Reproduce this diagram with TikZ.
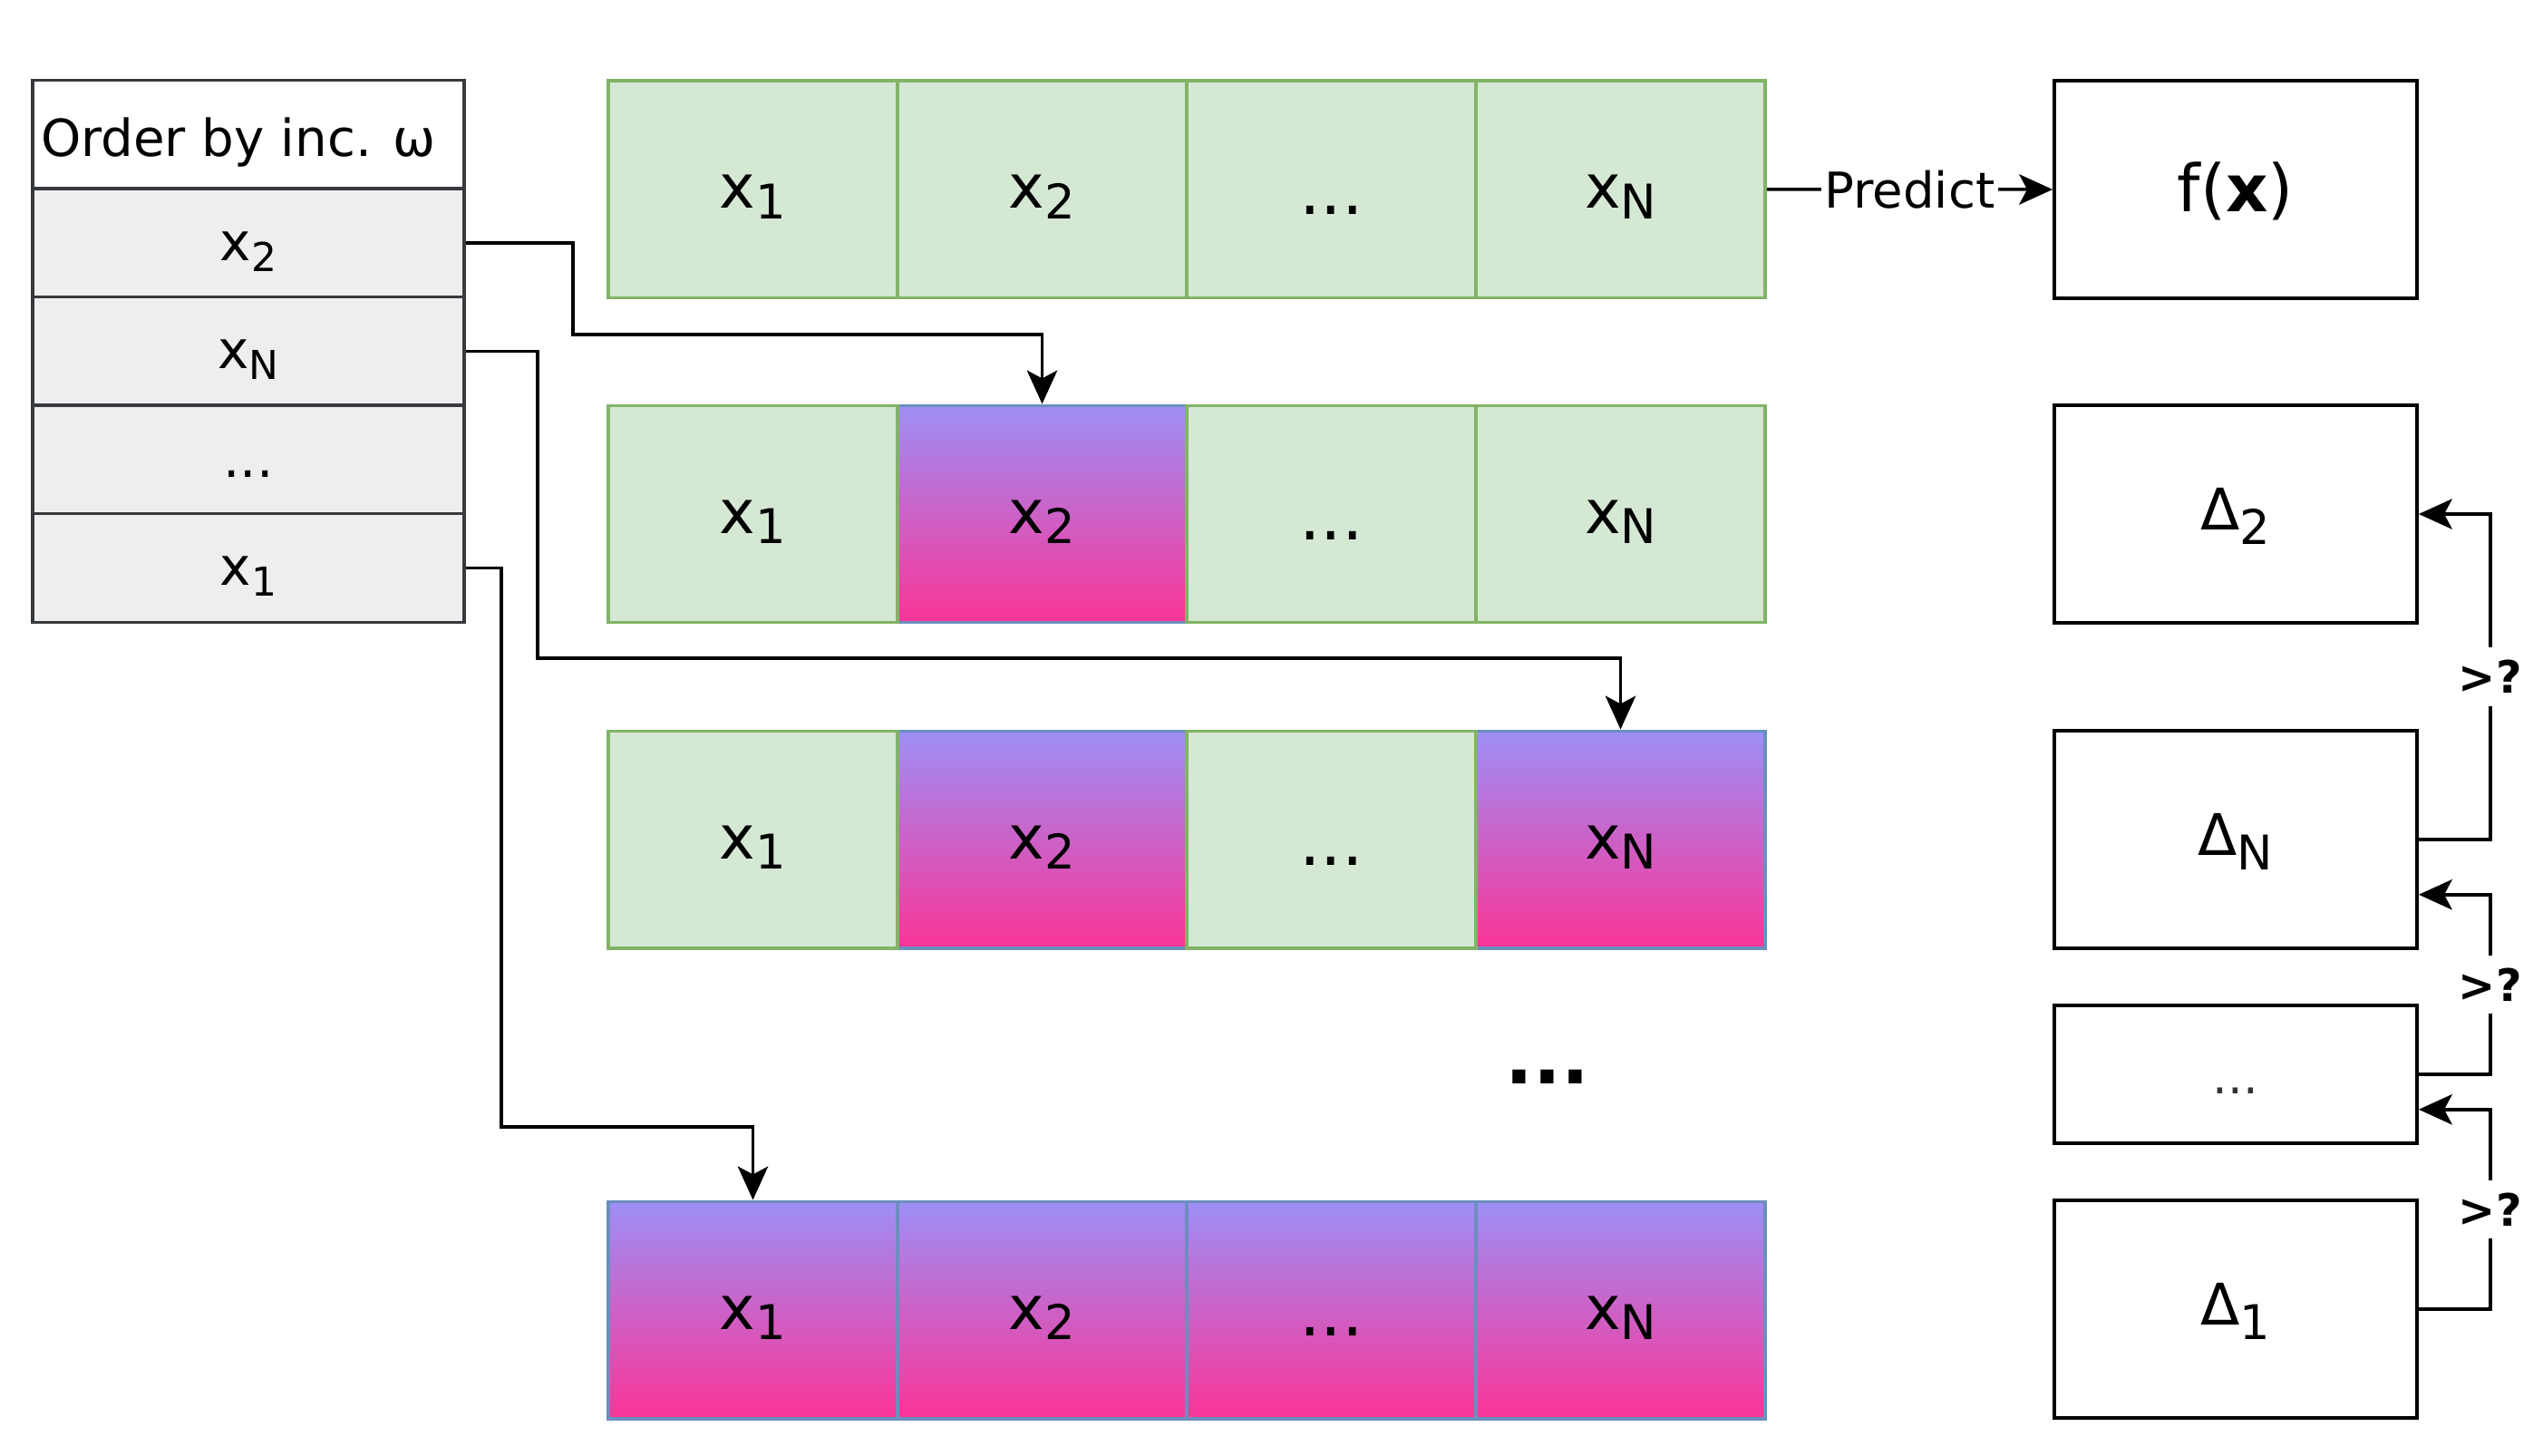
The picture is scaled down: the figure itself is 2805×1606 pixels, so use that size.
\documentclass[tikz,border=0pt]{standalone}
\usepackage{fontspec}
\setmainfont{DejaVu Sans}
\usetikzlibrary{arrows.meta,calc}
\definecolor{greenF}{HTML}{D5E8D4}
\definecolor{greenS}{HTML}{82B366}
\definecolor{blueS}{HTML}{6C8EBF}
\definecolor{gTop}{HTML}{9D8FF6}
\definecolor{gBot}{HTML}{FB3497}
\definecolor{tabF}{HTML}{EEEEEE}
\definecolor{tabS}{HTML}{36393D}
\newcommand{\myfs}[1]{\fontsize{#1}{#1}\selectfont}
\newcommand{\cellx}[1]{x\raisebox{-3.3pt}{\myfs{15}#1}}
\newcommand{\tabx}[1]{x\raisebox{-3.4pt}{\myfs{12.5}#1}}
\newcommand{\delt}[1]{Δ\raisebox{-4.8pt}{\myfs{15}#1}}
\begin{document}
\begin{tikzpicture}[x=0.01cm,y=-0.01cm,
  cellbase/.style={line width=0.95pt, minimum width=3.19cm, minimum height=2.395cm,
    inner sep=0pt, font={\myfs{19}}, text height=12pt, text depth=0pt},
  gcell/.style={cellbase, draw=greenS, fill=greenF},
  pcell/.style={cellbase, draw=blueS, top color=gTop, bottom color=gBot},
  dots/.style={text height=16pt, font={\myfs{21}}},
  tcell/.style={draw=tabS, fill=tabF, line width=1pt, minimum width=4.76cm,
    minimum height=1.195cm, inner sep=0pt, font={\myfs{16.5}}, text height=11pt, text depth=0pt},
  thead/.style={tcell, fill=white, font={\myfs{16}}, text height=13.4pt},
  rbox/.style={draw=black, fill=white, line width=1pt, minimum width=4cm,
    minimum height=2.395cm, inner sep=0pt, font={\myfs{18}}, text height=9.7pt, text depth=0pt},
  conn/.style={draw=black, line width=1pt, -{Stealth[length=10.5pt,width=9.5pt,inset=2.5pt]}},
  plbl/.style={fill=white, inner sep=1pt, font={\myfs{15.5}}},
  qlbl/.style={fill=white, inner sep=4pt, font={\bfseries\myfs{14}}}
]
\useasboundingbox (0,0) rectangle (2805,1606);

% left table
\node[thead] (th) at (274,148.5) {\hspace*{-0.22cm}Order by inc. ω};
\node[tcell] (t2) at (274,268) {\tabx{2}};
\node[tcell] (tN) at (274,387.5) {\tabx{N}};
\node[tcell] (td) at (274,507) {...};
\node[tcell] (t1) at (274,626.5) {\tabx{1}};

% row 1
\node[gcell] (r1c1) at (830.5,208.8) {\cellx{1}};
\node[gcell] (r1c2) at (1149.5,208.8) {\cellx{2}};
\node[gcell,dots] (r1c3) at (1468.5,208.8) {...};
\node[gcell] (r1c4) at (1787.5,208.8) {\cellx{N}};

% row 2
\node[pcell] (r2c2) at (1149.5,567) {\cellx{2}};
\node[gcell] (r2c1) at (830.5,567) {\cellx{1}};
\node[gcell,dots] (r2c3) at (1468.5,567) {...};
\node[gcell] (r2c4) at (1787.5,567) {\cellx{N}};

% row 3
\node[pcell] (r3c2) at (1149.5,926) {\cellx{2}};
\node[pcell] (r3c4) at (1787.5,926) {\cellx{N}};
\node[gcell] (r3c1) at (830.5,926) {\cellx{1}};
\node[gcell,dots] (r3c3) at (1468.5,926) {...};

% row 4
\node[pcell] (r4c1) at (830.5,1445) {\cellx{1}};
\node[pcell] (r4c2) at (1149.5,1445) {\cellx{2}};
\node[pcell,dots] (r4c3) at (1468.5,1445) {...};
\node[pcell] (r4c4) at (1787.5,1445) {\cellx{N}};

% big dots
\node[font={\bfseries\myfs{23}}, anchor=base, inner sep=0pt] (bigdots) at (1707,1195) {...};

% right boxes
\node[rbox, font={\myfs{20.5}}, text height=14.2pt] (fx) at (2466,209) {f(\textbf{x})};
\node[rbox] (d2) at (2466,567) {\delt{2}};
\node[rbox] (dN) at (2466,926) {\delt{N}};
\node[rbox, minimum height=1.515cm, font={\myfs{15}}, text height=12pt, text=black!80] (dd) at (2466,1185) {...};
\node[rbox] (d1) at (2466,1444) {\delt{1}};

% connectors from table
\draw[conn] (t2.east) -| (632,369) -| (r2c2.north);
\draw[conn] (tN.east) -| (593,726) -| (r3c4.north);
\draw[conn] (t1.east) -| (553,1243) -| (r4c1.north);

% predict
\draw[conn] (r1c4.east) -- node[plbl] {Predict} (fx.west);

% comparisons
\draw[conn] (dN.east) -- ++(79,0) |- node[qlbl,pos=0.25] {>?} (d2.east);
\draw[conn] (dd.east) -- ++(79,0) |- node[qlbl,pos=0.25] {>?} ($(dN.north east)!0.75!(dN.south east)$);
\draw[conn] (d1.east) -- ++(79,0) |- node[qlbl,pos=0.25] {>?} ($(dd.north east)!0.75!(dd.south east)$);
\end{tikzpicture}
\end{document}
